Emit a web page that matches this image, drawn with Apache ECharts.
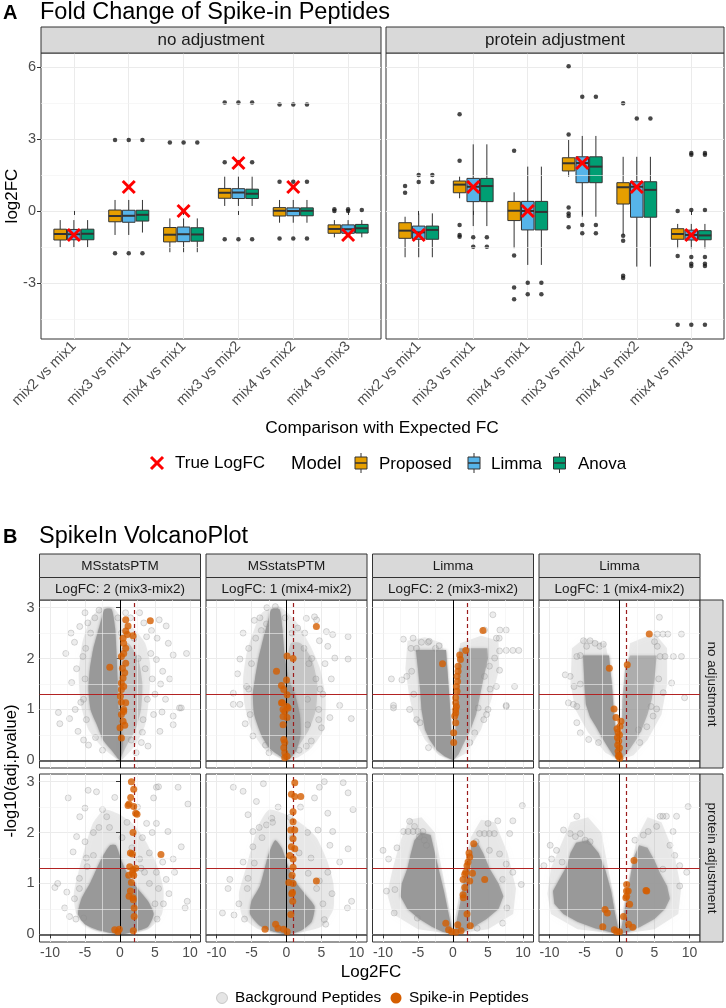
<!DOCTYPE html>
<html><head><meta charset="utf-8">
<script src="https://cdn.jsdelivr.net/npm/echarts@6/dist/echarts.min.js"></script>
<style>html,body{margin:0;padding:0;background:#fff}#c{width:726px;height:1008px}</style>
</head><body><div id="c"></div>
<script>
// ---------------- Panel A data ----------------
const comparisons = ['mix2 vs mix1','mix3 vs mix1','mix4 vs mix1','mix3 vs mix2','mix4 vs mix2','mix4 vs mix3'];
const models = ['Proposed','Limma','Anova'];
const facetsA = ['no adjustment','protein adjustment'];
const trueLogFC = [-1,1,0,2,1,-1];
const yTicksA = [-3,0,3,6];
// box stats: [lower whisker, q1, median, q3, upper whisker]
const noAdjProposed = [[-1.51,-1.21,-0.96,-0.76,-0.38],[-1.00,-0.45,-0.21,0.04,0.46],[-1.72,-1.29,-0.99,-0.69,-0.31],[0.21,0.53,0.76,0.94,1.43],[-0.49,-0.21,0.01,0.14,0.46],[-1.10,-0.93,-0.75,-0.58,-0.38]];
const noAdjLimma    = [[-1.51,-1.20,-0.97,-0.77,-0.38],[-1.00,-0.47,-0.20,0.03,0.46],[-1.72,-1.28,-0.97,-0.67,-0.31],[0.21,0.52,0.77,0.93,1.43],[-0.49,-0.20,0.00,0.13,0.46],[-1.10,-0.93,-0.76,-0.58,-0.38]];
const noAdjAnova    = [[-1.51,-1.20,-0.95,-0.76,-0.38],[-0.90,-0.42,-0.16,0.03,0.46],[-1.72,-1.26,-0.98,-0.70,-0.31],[0.21,0.52,0.72,0.91,1.43],[-0.49,-0.20,0.01,0.13,0.46],[-1.10,-0.92,-0.72,-0.56,-0.38]];
const protAdjProposed = [[-1.93,-1.14,-0.82,-0.49,-0.24],[0.53,0.76,1.10,1.25,1.43],[-1.55,-0.40,0.01,0.40,0.78],[1.43,1.67,1.99,2.22,2.96],[-1.00,0.29,0.99,1.18,2.26],[-1.55,-1.18,-0.96,-0.74,-0.54]];
const protAdjLimma    = [[-1.93,-1.18,-0.89,-0.63,-0.10],[-0.63,0.39,1.01,1.36,2.78],[-2.25,-0.79,0.00,0.40,1.85],[-0.24,1.18,2.00,2.26,3.13],[-2.32,-0.26,1.01,1.22,2.26],[-1.56,-1.21,-1.00,-0.80,-0.54]];
const protAdjAnova    = [[-1.93,-1.18,-0.79,-0.63,-0.10],[-0.63,0.39,1.04,1.36,2.78],[-2.25,-0.79,-0.04,0.40,1.85],[-0.24,1.18,1.85,2.26,3.13],[-2.32,-0.26,0.88,1.22,2.26],[-1.56,-1.20,-1.02,-0.82,-0.54]];
// outliers: [comparison number, value]
const noAdjProposedOut = [[2,2.96],[2,-1.76],[3,2.86],[4,4.53],[4,2.03],[4,-1.18],[5,4.44],[5,1.22],[5,-1.15],[6,0.0],[6,0.07]];
const noAdjLimmaOut    = [[2,2.96],[2,-1.76],[3,2.86],[4,4.53],[4,2.03],[4,-1.18],[5,4.44],[5,1.22],[5,-1.15],[6,0.0],[6,0.07]];
const noAdjAnovaOut    = [[2,2.96],[2,-1.76],[3,2.86],[4,4.53],[4,2.03],[4,-1.18],[5,4.44],[5,1.22],[5,-1.15],[6,0.04]];
const protAdjProposedOut = [[1,1.04],[1,0.76],[2,4.04],[2,2.1],[2,-0.58],[2,-1.0],[2,-1.07],[3,2.51],[3,-1.86],[3,-3.19],[3,-3.68],[4,6.04],[4,3.19],[4,0.15],[4,-0.1],[4,-0.21],[4,-0.68],[5,4.49],[5,-1.03],[5,-1.24],[5,-2.7],[5,-2.8],[6,0.0],[6,-1.88],[6,-4.75]];
const protAdjLimmaOut    = [[1,1.5],[1,1.21],[2,-1.1],[2,-1.49],[3,-2.99],[3,-3.47],[4,4.76],[4,-0.58],[4,-0.93],[5,3.86],[6,2.35],[6,2.42],[6,0.04],[6,-1.92],[6,-2.2],[6,-2.3],[6,-4.75]];
const protAdjAnovaOut    = [[1,1.5],[1,1.21],[2,-1.1],[2,-1.49],[3,-2.99],[3,-3.47],[4,4.76],[4,-0.58],[4,-0.93],[5,3.86],[6,2.35],[6,2.42],[6,0.04],[6,-1.92],[6,-2.2],[6,-2.3],[6,-4.75]];

// ---------------- Panel B data ----------------
const bModels = ['MSstatsPTM','MSstatsPTM','Limma','Limma'];
const bLabels = ['LogFC: 2 (mix3-mix2)','LogFC: 1 (mix4-mix2)','LogFC: 2 (mix3-mix2)','LogFC: 1 (mix4-mix2)'];
const bTrueFC = [2,1,2,1];
const bRows = ['no adjustment','protein adjustment'];
const xTicksB = [-10,-5,0,5,10];
const yTicksB = [0,1,2,3];
const sigLine = 1.301;

// dense clouds (outlines of overlapping background points) and sparse background points
const r1c1Halo = [[0,0],[-2.5,0.25],[-4.5,0.6],[-5.6,1.1],[-5.9,1.7],[-5.4,2.3],[-4.3,2.75],[-2.8,3.0],[-1.0,3.0],[0.5,2.75],[2.2,2.55],[3.6,2.3],[4.3,1.9],[4.2,1.3],[3.6,0.7],[2.2,0.3],[0.8,0.08]];
const r1c1Core = [[0,0],[-1.2,0.2],[-2.4,0.4],[-3.3,0.7],[-4.2,1.0],[-4.5,1.4],[-4.3,1.8],[-3.8,2.2],[-3.2,2.5],[-2.6,2.8],[-2.2,2.97],[-1.2,2.97],[-0.7,2.6],[-0.5,2.1],[-0.35,1.6],[-0.25,1.1],[0.1,0.7],[0.4,0.4],[0.2,0.1]];
const r1c1Mid  = [[0,0.05],[1,0.3],[2.2,0.6],[3.0,1.0],[3.2,1.5],[2.6,2.0],[1.2,2.3],[0.2,2.2],[-0.2,1.5],[-0.1,0.6]];
const r1c1Bg = [[-8.8,0.94],[-8.6,0.72],[-7.2,0.82],[-6.4,1.0],[-6.0,0.57],[-5.75,2.63],[-6.5,2.32],[-7.75,2.1],[-5.3,2.04],[-6.9,1.53],[-5.6,1.14],[-6.2,1.8],[-5.0,2.9],[-4.6,2.7],[-7.0,2.5],[-5.2,0.4],[-4.5,0.3],[2.8,2.9],[5.6,2.76],[6.6,2.64],[7.6,2.07],[9.5,2.1],[3.8,2.43],[4.5,2.55],[5.2,1.98],[6.1,1.75],[8.75,1.03],[7.6,0.87],[8.5,1.03],[7.6,0.7],[5.7,0.57],[3.05,0.35],[4.0,0.28],[2.3,0.15],[5.0,1.3],[5.8,1.5],[6.5,1.2],[4.8,0.9],[4.4,2.1],[3.4,2.7],[5.3,2.4],[6.9,2.3],[6.0,0.95],[4.6,1.6],[7.1,1.6],[3.2,0.55],[1.5,2.8],[0.8,2.9],[-4.8,0.8],[-5.2,1.2],[-5.0,1.6],[-4.9,2.2],[-4.2,2.5],[-3.6,2.8],[-3.0,2.95],[-0.3,2.8],[0.2,2.5],[2.0,2.4],[2.6,2.0],[3.6,1.8],[3.9,1.2],[3.3,0.8],[1.6,0.4],[-3.5,0.45],[-2.5,0.2]];
const r1c1Spike = [[0.82,2.76],[1.15,2.64],[0.82,2.54],[1.06,2.47],[0.44,2.40],[1.86,2.45],[0.53,2.30],[0.82,2.20],[0.53,2.10],[0.20,2.04],[0.82,1.91],[0.35,1.81],[0.68,1.72],[0.44,1.62],[0.20,1.52],[0.53,1.45],[0.20,1.39],[0.06,1.26],[0.20,1.14],[0.82,1.13],[0.53,0.96],[0.53,1.0],[0.20,0.90],[0.44,0.77],[0.68,0.69],[0.0,0.64],[0.20,0.44],[4.33,2.74],[-1.46,1.83]];

const r1c2Halo = [[0,0],[-3,0.2],[-5,0.6],[-6.0,1.1],[-6.2,1.6],[-5.7,2.1],[-4.8,2.5],[-3.5,2.9],[-1,3.02],[1.5,2.7],[3.4,2.25],[4.8,1.8],[5.6,1.2],[5.3,0.6],[3.6,0.25],[1.5,0.05]];
const r1c2Core = [[0,0],[-1.3,0.12],[-2.5,0.25],[-3.6,0.5],[-4.6,0.9],[-4.8,1.3],[-4.5,1.6],[-4.0,2.0],[-3.3,2.4],[-2.6,2.75],[-2.15,2.97],[-1.0,2.97],[-0.6,2.6],[-0.3,2.1],[0.3,1.6],[1.2,1.3],[1.9,0.9],[2.0,0.5],[1.4,0.2],[0.6,0.05]];
const r1c2Mid  = [[0.3,0.1],[1.8,0.3],[3.2,0.6],[4.2,1.0],[4.4,1.5],[3.6,2.0],[2.0,2.3],[0.6,2.3],[0,1.8]];
const r1c2Bg = [[-6.2,2.5],[-6.65,1.99],[-2.86,2.68],[-3.6,2.55],[2.84,2.79],[4.0,2.82],[4.3,2.76],[5.7,2.53],[6.6,2.47],[8.8,2.43],[5.9,2.24],[6.9,2.01],[8.8,1.99],[4.7,2.35],[-5.7,1.45],[-6.65,1.1],[-7.6,1.32],[-7.6,1.1],[-5.9,0.72],[-4.8,0.48],[7.6,1.08],[9.25,0.82],[5.0,0.64],[6.2,0.84],[3.55,0.38],[2.84,0.28],[3.6,2.0],[4.2,1.6],[5.2,1.3],[3.0,1.2],[4.6,1.0],[-7.0,1.7],[-5.4,2.2],[-4.6,2.75],[-1.6,3.02],[1.6,2.6],[2.5,2.2],[6.4,1.6],[5.5,1.9],[-3.0,0.3],[-5.2,0.9],[-5.4,1.4],[-5.0,1.9],[-4.4,2.4],[-3.8,2.8],[-2.8,3.0],[-0.2,2.8],[0.8,2.5],[2.6,2.5],[3.2,1.9],[4.8,1.4],[4.6,0.8],[3.0,0.7],[1.8,0.2],[-2.5,0.15]];
const r1c2Spike = [[4.27,2.63],[0.08,2.05],[0.94,2.0],[-1.43,1.75],[-0.72,1.47],[-0.39,1.39],[0.0,1.58],[0.08,1.29],[-0.58,1.13],[0.08,1.06],[-0.25,0.96],[-0.72,1.13],[-0.49,1.0],[0.22,1.03],[-0.49,0.86],[0.08,0.84],[-0.49,0.7],[-0.39,0.41],[-0.25,0.35],[-0.39,0.25],[-0.25,0.15],[-0.25,0.05],[0.08,0.08]];

const r1c3Halo = [[0,0],[-2,0.1],[-4,0.4],[-5.5,0.8],[-6.3,1.3],[-6.8,1.8],[-6.5,2.35],[-4,2.42],[-1.5,2.3],[-0.5,1.2],[0,0.3],[0.5,1.2],[1,2.3],[4,2.45],[6.5,2.35],[6.6,1.8],[5.5,1.2],[4,0.6],[2,0.15]];
const r1c3CoreL = [[0,0],[-1.2,0.08],[-2.3,0.2],[-3.3,0.4],[-4.0,0.6],[-4.5,1.0],[-4.7,1.4],[-5.0,1.8],[-5.3,2.17],[-1.0,2.17],[-0.7,1.6],[-0.45,1.1],[-0.25,0.5]];
const r1c3CoreR = [[0.05,0],[0.8,0.12],[1.6,0.35],[2.5,0.6],[3.3,0.9],[3.9,1.3],[4.5,1.7],[5.0,2.0],[4.9,2.2],[0.9,2.2],[0.7,1.6],[0.5,1.0],[0.3,0.5]];
const r1c3Bg = [[-7.1,2.38],[-5.7,2.4],[-4.5,2.32],[-3.55,2.32],[-3.4,2.34],[-8.8,1.6],[-7.3,1.58],[-6.6,1.65],[-5.9,1.75],[-8.5,1.03],[-6.2,1.0],[5.7,2.86],[4.5,2.56],[6.7,2.56],[7.6,2.56],[6.2,2.4],[6.6,2.4],[9.4,2.16],[8.55,2.16],[7.6,2.16],[6.65,2.15],[5.95,2.01],[5.2,1.85],[6.65,1.77],[4.5,1.65],[6.2,1.45],[8.8,1.45],[7.6,1.06],[5.0,1.0],[-8.5,1.08],[-4.7,0.74],[3.6,1.03],[4.8,0.9],[7.6,1.08],[2.4,0.35],[3.1,0.54],[-6.0,2.2],[-5.2,2.2],[-2.5,2.2],[-2.0,2.25],[-5.6,1.3],[-5.2,0.8],[-3.5,0.25],[5.3,1.4],[4.4,0.8]];
const r1c3Spike = [[4.28,2.55],[1.82,2.16],[0.96,2.07],[1.06,1.98],[0.72,1.85],[0.72,1.75],[0.58,1.65],[0.65,1.55],[0.49,1.45],[0.58,1.36],[0.39,1.23],[0.49,1.06],[0.39,0.93],[-1.5,1.9],[0.39,1.13],[0.39,1.0],[0.25,0.87],[0.39,0.74],[0.1,0.54],[0.1,0.35]];

const r1c4Halo = [[0,0],[-2,0.15],[-4.5,0.55],[-6.3,1.0],[-7.0,1.5],[-6.8,2.2],[-5,2.4],[-2,2.3],[-1,1.5],[-0.2,0.3],[0.2,0.3],[0.8,1.5],[1.5,2.3],[5,2.5],[6.8,2.2],[6.8,1.5],[6,0.9],[4,0.4],[2,0.1]];
const r1c4CoreL = [[0,0],[-0.9,0.1],[-1.6,0.25],[-2.5,0.45],[-3.3,0.65],[-4.2,0.85],[-4.8,1.1],[-5.0,1.5],[-5.2,2.06],[-1.5,2.06],[-1.1,1.5],[-0.8,0.9],[-0.4,0.4],[-0.1,0.1]];
const r1c4CoreR = [[0.1,0],[0.8,0.1],[1.6,0.25],[2.6,0.45],[3.3,0.65],[4.0,0.9],[4.6,1.2],[5.0,1.6],[5.3,2.06],[1.5,2.06],[0.8,1.8],[0.4,1.2],[0.3,0.6]];
const r1c4Bg = [[-5.15,2.35],[-4.2,2.35],[-4.7,2.24],[-2.8,2.24],[-2.3,2.28],[-5.6,2.06],[-6.1,2.04],[-7.05,1.65],[-7.75,1.68],[-6.5,1.45],[-7.3,1.13],[-6.1,1.06],[5.7,2.81],[5.4,2.48],[6.2,2.48],[6.9,2.48],[8.85,2.48],[5.0,2.33],[5.4,2.24],[5.8,2.04],[6.5,2.04],[7.7,2.04],[8.85,2.04],[7.45,1.52],[6.25,1.33],[9.3,1.23],[4.5,1.06],[-6.6,1.1],[-6.1,0.74],[-5.6,0.54],[-4.4,0.41],[5.3,1.01],[4.8,0.87],[2.9,0.35],[2.7,0.6],[3.9,0.66],[-5.6,1.5],[-3.0,0.35],[5.6,1.6],[-3.5,2.3]];
const r1c4Spike = [[4.25,2.48],[-1.45,1.81],[1.11,1.88],[-0.78,1.01],[-0.5,0.84],[0.21,0.77],[0.07,0.67],[-0.35,0.62],[-0.2,0.55],[0.0,0.5],[-0.3,0.45],[-0.1,0.38],[-0.25,0.3],[0.0,0.25],[-0.2,0.18],[-0.05,0.1],[0.05,0.04],[-0.15,0.08]];

const r2c1Halo = [[0,0],[-4,0.1],[-6.2,0.4],[-6.6,0.8],[-5.8,1.3],[-4.8,1.8],[-3.8,2.2],[-2.2,2.45],[0,2.35],[2,2.15],[3.8,1.8],[5.3,1.35],[6.2,0.9],[6.0,0.4],[4,0.1]];
const r2c1Core = [[0,0],[-3,0.08],[-5,0.2],[-6,0.4],[-5.5,0.7],[-4.3,1.0],[-3.3,1.3],[-2.4,1.55],[-1.4,1.75],[-0.6,1.75],[0.2,1.45],[1.2,1.15],[2.5,0.9],[4,0.65],[4.8,0.4],[4,0.15],[2,0.05]];
const r2c1Bg = [[-7.4,2.68],[-4.55,2.83],[-3.36,2.8],[-5.0,2.48],[-5.75,2.31],[-0.75,2.69],[-1.9,2.31],[-6.2,1.92],[-5.0,1.82],[-6.7,1.62],[-4.7,1.33],[-9.3,0.92],[-8.9,1.0],[-7.6,0.83],[5.2,2.89],[5.5,2.9],[8.3,2.89],[9.7,2.56],[4.8,2.68],[3.8,2.18],[5.2,2.18],[4.6,2.0],[6.85,2.02],[8.75,1.72],[7.6,1.48],[6.1,1.42],[5.2,1.22],[6.6,1.08],[7.8,1.22],[2.8,1.48],[3.5,1.22],[-7.9,0.52],[-7.2,0.35],[9.6,0.65],[9.3,0.52],[-5.2,0.32],[-3.0,2.1],[-2.5,2.45],[1.0,2.2],[2.5,2.5],[3.2,1.9],[4.2,1.6],[-3.8,1.55],[-5.8,1.1],[-6.5,0.7],[6.2,0.6],[7.0,0.8],[5.5,0.9],[-6.3,0.3],[-5.8,0.9],[-4.8,1.5],[-3.8,2.0],[-1.5,2.1],[0.3,1.9],[1.7,1.7],[3.0,1.3],[4.2,1.0],[5.0,0.6],[5.3,0.3]];
const r2c1Spike = [[1.63,3.0],[1.96,2.85],[1.53,2.69],[1.29,2.56],[1.15,2.53],[1.96,2.51],[2.24,2.38],[2.43,2.36],[1.86,2.0],[1.49,1.6],[1.77,1.58],[5.85,1.57],[1.39,1.33],[2.24,1.3],[1.86,1.27],[1.77,1.2],[1.25,1.16],[1.96,1.16],[1.63,1.02],[1.3,0.75],[1.86,0.72],[1.49,0.85],[1.9,0.68],[2.02,0.52],[2.02,0.35],[1.9,0.07],[-0.3,0.05],[-0.75,0.09],[-0.1,0.1]];

const r2c2Halo = [[0,0],[-4,0.1],[-6.3,0.35],[-6.8,0.8],[-5.8,1.3],[-4.8,1.8],[-3.8,2.2],[-2.5,2.45],[0,2.35],[2.4,2.15],[4.3,1.9],[5.8,1.45],[6.7,1.0],[6.7,0.5],[5,0.15]];
const r2c2Core = [[0,0],[-2,0.06],[-3.9,0.18],[-5.2,0.4],[-5,0.65],[-3.8,0.95],[-3.1,1.3],[-2.5,1.6],[-1.6,1.85],[-0.7,1.7],[0.2,1.35],[1.2,1.05],[2.6,0.8],[4.0,0.55],[3.6,0.25],[2.0,0.07]];
const r2c2Bg = [[-7.6,2.89],[-3.3,2.96],[-6.2,2.81],[-4.3,2.61],[-5.5,2.35],[-4.8,2.02],[-2.86,2.15],[-2.1,2.28],[5.4,3.0],[8.1,2.98],[4.7,2.89],[4.0,2.68],[5.9,2.38],[8.8,2.78],[9.5,2.45],[4.5,2.05],[6.6,2.02],[6.2,1.75],[8.8,1.68],[7.6,1.42],[5.9,1.22],[4.7,1.05],[-4.8,1.72],[-6.2,1.42],[-8.1,1.08],[-8.35,0.9],[-9.15,0.42],[-7.5,0.38],[9.3,0.65],[8.7,0.52],[5.4,0.29],[-1.2,2.5],[0.5,2.3],[2.0,2.5],[3.0,2.0],[3.5,1.5],[-3.5,1.9],[-5.5,1.1],[6.5,0.8],[-6.8,0.6],[-6.0,0.3],[-5.6,0.9],[-4.6,1.4],[-3.9,2.1],[-2.0,2.2],[0.8,1.9],[1.8,1.6],[3.1,1.2],[4.3,0.9],[5.2,0.6],[5.6,0.2]];
const r2c2Spike = [[1.18,2.98],[0.7,2.75],[1.18,2.71],[2.04,2.71],[0.94,2.41],[0.94,2.21],[0.61,2.05],[1.18,2.05],[0.94,1.88],[0.7,1.72],[1.18,1.68],[0.46,1.55],[0.94,1.48],[0.94,1.32],[0.8,1.16],[0.32,1.02],[0.94,1.0],[4.27,1.05],[0.85,0.82],[0.75,0.8],[0.89,0.65],[0.62,0.39],[-3.07,0.1],[-1.56,0.2],[-1.22,0.12],[-0.43,0.1],[0.1,0.05]];

const r2c3Halo = [[0,0],[-5,0.1],[-8.6,0.4],[-9.4,0.8],[-8.6,1.3],[-7.6,1.8],[-6.3,2.25],[-4.5,2.3],[-2.6,2.0],[-1.2,1.0],[0,0.1],[1.2,1.0],[2.5,1.9],[4,2.25],[6,2.2],[7.8,1.6],[9,0.9],[8.6,0.4],[5,0.1]];
const r2c3CoreL = [[0,0],[-1.5,0.05],[-3,0.15],[-4.8,0.3],[-6.5,0.5],[-7.5,0.75],[-7.3,1.0],[-6.5,1.3],[-6.0,1.6],[-5.5,1.85],[-4.5,2.0],[-3.2,1.95],[-2.6,1.6],[-2.0,1.25],[-1.3,0.85],[-0.7,0.45],[-0.25,0.15]];
const r2c3CoreR = [[0.2,0],[1.5,0.05],[3,0.15],[4.8,0.3],[6.5,0.5],[7.2,0.75],[6.5,1.0],[5.2,1.3],[4.3,1.6],[3.5,1.8],[2.6,1.75],[2.0,1.4],[1.5,1.0],[1.0,0.6],[0.5,0.25]];
const r2c3Bg = [[-10,1.65],[-9.2,1.48],[-8.0,1.7],[-7.1,2.02],[-6.4,2.02],[-5.7,2.02],[-5.0,2.02],[-4.3,2.02],[-6.2,2.22],[-5.5,2.12],[-4.8,1.92],[-4.1,1.85],[-3.8,1.75],[-8.3,0.88],[-9.5,0.85],[3.8,1.98],[4.5,1.98],[5.2,1.98],[5.9,1.98],[8.1,1.98],[5.0,2.18],[6.4,2.23],[8.55,2.23],[9.9,2.53],[3.3,1.82],[5.2,1.65],[6.65,1.58],[7.6,1.38],[8.55,1.22],[9.75,0.98],[7.1,1.08],[-8.4,0.42],[-5.1,0.32],[7.7,0.52],[7.1,0.22],[3.45,0.12]];
const r2c3Spike = [[2.96,1.78],[2.29,1.6],[2.39,1.52],[2.15,1.42],[2.0,1.35],[1.82,1.22],[1.68,1.18],[2.78,1.2],[1.44,1.08],[4.53,1.08],[2.39,1.05],[1.68,0.92],[1.44,0.78],[1.48,0.72],[2.0,0.4],[-1.03,0.22],[0.68,0.19],[2.47,0.17],[-0.63,0.09],[-0.18,0.05],[1.15,0.07],[0.4,0.04]];

const r2c4Halo = [[0,0],[-6,0.1],[-9.8,0.4],[-10.3,0.8],[-9.8,1.3],[-8.4,1.75],[-7,2.2],[-4.5,2.3],[-2.6,2.0],[-1.2,1.0],[0,0.1],[1.2,1.0],[2.5,1.9],[4,2.3],[6,2.2],[7.8,1.6],[8.8,0.9],[8.4,0.4],[5,0.1]];
const r2c4CoreL = [[0,0],[-1.5,0.05],[-3.5,0.12],[-6,0.25],[-8,0.4],[-9.3,0.6],[-9.5,0.85],[-8.5,1.1],[-7.5,1.35],[-7.0,1.6],[-6.2,1.8],[-4.5,1.85],[-3.0,1.6],[-2.0,1.25],[-1.2,0.85],[-0.7,0.45],[-0.2,0.12]];
const r2c4CoreR = [[0.1,0],[1.5,0.06],[3.0,0.15],[5.0,0.3],[6.5,0.5],[7.2,0.7],[6.8,0.95],[5.8,1.2],[5.0,1.45],[4.0,1.7],[2.8,1.75],[2.0,1.5],[1.5,1.1],[1.0,0.7],[0.5,0.3]];
const r2c4Bg = [[-6.1,2.32],[-8.0,2.05],[-7.05,1.98],[-6.3,1.92],[-5.6,1.98],[-4.9,1.85],[-4.2,1.82],[-9.9,1.75],[-9.0,1.65],[-9.7,1.48],[-8.2,1.42],[-10.8,1.35],[2.2,1.85],[3.4,1.95],[4.1,2.02],[5.3,2.12],[5.8,2.32],[6.2,2.32],[6.7,2.32],[8.15,2.32],[9.8,2.51],[7.65,2.02],[7.2,1.75],[7.9,1.55],[8.6,1.35],[6.2,1.28],[9.6,1.22],[8.6,0.95]];
const r2c4Spike = [[2.07,1.45],[3.78,0.86],[1.02,0.98],[1.0,0.85],[1.02,0.75],[1.24,0.85],[0.91,0.72],[1.44,0.59],[3.89,0.85],[-2.07,0.49],[-1.74,0.42],[0.57,0.35],[-2.39,0.15],[-0.74,0.09],[-0.41,0.05],[0.0,0.05],[1.89,0.14],[1.3,0.2]];

// ---------------- build chart ----------------
const FONT = "'Liberation Sans', Arial, sans-serif";
const COLORS = ['#E69F00','#56B4E9','#009E73'];
const SPIKE = '#D55E00';
const GRIDLINE = '#EBEBEB';
const grids = [], xAxes = [], yAxes = [], series = [], graphics = [];

function boxRenderer(offset, color) {
  const hw = 0.115;
  return function (params, api) {
    const x = api.value(0) + offset;
    const lo = api.coord([x, api.value(1)]), q1 = api.coord([x - hw, api.value(2)]);
    const md = api.coord([x, api.value(3)]), q3 = api.coord([x + hw, api.value(4)]);
    const hi = api.coord([x, api.value(5)]);
    const st = { stroke: '#333333', lineWidth: 1 };
    return { type: 'group', children: [
      { type: 'line', shape: { x1: md[0], y1: hi[1], x2: md[0], y2: q3[1] }, style: st },
      { type: 'line', shape: { x1: md[0], y1: q1[1], x2: md[0], y2: lo[1] }, style: st },
      { type: 'rect', shape: { x: q1[0], y: q3[1], width: q3[0] - q1[0], height: q1[1] - q3[1] }, style: { fill: color, stroke: '#333333', lineWidth: 1 } },
      { type: 'line', shape: { x1: q1[0], y1: md[1], x2: q3[0], y2: md[1] }, style: { stroke: '#333333', lineWidth: 2 } }
    ]};
  };
}
function crossRenderer(params, api) {
  const p = api.coord([api.value(0), api.value(1)]);
  const r = 6, st = { stroke: '#FF0000', lineWidth: 3 };
  return { type: 'group', children: [
    { type: 'line', shape: { x1: p[0] - r, y1: p[1] - r, x2: p[0] + r, y2: p[1] + r }, style: st },
    { type: 'line', shape: { x1: p[0] - r, y1: p[1] + r, x2: p[0] + r, y2: p[1] - r }, style: st }
  ]};
}
function polyRenderer(points, fill, smooth, blur) {
  return function (params, api) {
    if (params.dataIndex !== 0) return null;
    return { type: 'polygon', shape: { points: points.map(p => api.coord(p)), smooth: smooth },
      style: { fill: fill, shadowBlur: blur, shadowColor: fill } };
  };
}
function textEl(x, y, text, size, opts) {
  opts = opts || {};
  return { type: 'text', x: x, y: y, rotation: opts.rot || 0, z: 10,
    style: { text: text, fontSize: size, fontFamily: FONT, fontWeight: opts.bold ? 'bold' : 'normal',
      fill: opts.color || '#000', align: opts.align || 'left', verticalAlign: 'middle' } };
}
function stripEl(x, y, w, h) {
  return { type: 'rect', z: 5, shape: { x: x, y: y, width: w, height: h }, style: { fill: '#D9D9D9', stroke: '#333333', lineWidth: 1 } };
}

// ----- Panel A -----
const aGrid = [{ left: 41, top: 53, width: 340, height: 286 }, { left: 386, top: 53, width: 338, height: 286 }];
const boxSets = [[noAdjProposed, noAdjLimma, noAdjAnova], [protAdjProposed, protAdjLimma, protAdjAnova]];
const outSets = [[noAdjProposedOut, noAdjLimmaOut, noAdjAnovaOut], [protAdjProposedOut, protAdjLimmaOut, protAdjAnovaOut]];
const modelOffset = [-0.25, 0, 0.25];
const catTicks = comparisons.map((c, i) => i + 1);

aGrid.forEach((g, fi) => {
  grids.push(Object.assign({ show: true, borderColor: '#333333', borderWidth: 1, backgroundColor: '#fff', containLabel: false, outerBoundsMode: 'none' }, g));
  xAxes.push({ gridIndex: fi, type: 'value', min: 0.4, max: 6.6, axisLine: { show: false },
    axisTick: { show: true, customValues: catTicks, length: 4, lineStyle: { color: '#333333' } },
    axisLabel: { customValues: catTicks, formatter: v => comparisons[Math.round(v) - 1], rotate: 45, color: '#4D4D4D', fontSize: 14.5, fontFamily: FONT, margin: 5 },
    splitLine: { show: true, lineStyle: { color: GRIDLINE, width: 1 } } });
  yAxes.push({ gridIndex: fi, type: 'value', min: -5.34, max: 6.59, axisLine: { show: false },
    axisTick: { show: true, customValues: yTicksA, length: fi === 0 ? 4 : 0, lineStyle: { color: '#333333' } },
    axisLabel: { show: fi === 0, customValues: yTicksA, color: '#4D4D4D', fontSize: 14.5, fontFamily: FONT, margin: 5 },
    splitLine: { show: true, lineStyle: { color: GRIDLINE, width: 1 } } });
  series.push({ type: 'line', xAxisIndex: fi, yAxisIndex: fi, data: [], z: 1, silent: true,
    markLine: { silent: true, symbol: ['none', 'none'], animation: false, label: { show: false },
      lineStyle: { color: '#F2F2F2', width: 0.6, type: 'solid' },
      data: [-4.5, -1.5, 1.5, 4.5].map(v => ({ yAxis: v })) } });
  boxSets[fi].forEach((stats, mi) => {
    series.push({ type: 'custom', name: models[mi], xAxisIndex: fi, yAxisIndex: fi, z: 3, silent: true,
      data: stats.map((s, ci) => [ci + 1].concat(s)), encode: { x: 0, y: [1, 2, 3, 4, 5] },
      renderItem: boxRenderer(modelOffset[mi], COLORS[mi]) });
    series.push({ type: 'scatter', xAxisIndex: fi, yAxisIndex: fi, z: 3, silent: true, symbolSize: 4.5,
      itemStyle: { color: '#1A1A1A' }, data: outSets[fi][mi].map(d => [d[0] + modelOffset[mi], d[1]]) });
  });
  series.push({ type: 'custom', name: 'True LogFC', xAxisIndex: fi, yAxisIndex: fi, z: 6, silent: true,
    data: trueLogFC.map((v, i) => [i + 1, v]), encode: { x: 0, y: 1 }, renderItem: crossRenderer });
  graphics.push(stripEl(g.left, 27, g.width, 26));
  graphics.push(textEl(g.left + g.width / 2, 40, facetsA[fi], 17, { align: 'center', color: '#1A1A1A' }));
});
graphics.push(textEl(3, 13, 'A', 20, { bold: true }));
graphics.push(textEl(40, 13, 'Fold Change of Spike-in Peptides', 23.5));
graphics.push(textEl(12, 196, 'log2FC', 17, { align: 'center', rot: Math.PI / 2 }));
graphics.push(textEl(382, 428, 'Comparison with Expected FC', 17.3, { align: 'center' }));
// legend A
graphics.push({ type: 'line', z: 10, shape: { x1: 151, y1: 457, x2: 163, y2: 469 }, style: { stroke: '#FF0000', lineWidth: 3 } });
graphics.push({ type: 'line', z: 10, shape: { x1: 151, y1: 469, x2: 163, y2: 457 }, style: { stroke: '#FF0000', lineWidth: 3 } });
graphics.push(textEl(175, 463, 'True LogFC', 17));
graphics.push(textEl(291, 464, 'Model', 18.5));
const legKeyX = [361, 474, 559.5], legTextX = [379, 491, 578];
models.forEach((m, i) => {
  const cx = legKeyX[i];
  graphics.push({ type: 'line', z: 10, shape: { x1: cx, y1: 453, x2: cx, y2: 473 }, style: { stroke: '#333', lineWidth: 1 } });
  graphics.push({ type: 'rect', z: 10, shape: { x: cx - 6, y: 457, width: 12, height: 12 }, style: { fill: COLORS[i], stroke: '#333', lineWidth: 1 } });
  graphics.push({ type: 'line', z: 10, shape: { x1: cx - 6, y1: 463, x2: cx + 6, y2: 463 }, style: { stroke: '#333', lineWidth: 1.5 } });
  graphics.push(textEl(legTextX[i], 464, m, 17));
});

// ----- Panel B -----
const colLeft = [39.5, 206, 372.5, 539], colW = 161, rowTop = [600, 774], rowH = 168;
const bPanels = [
  [{ halo: r1c1Halo, cores: [[r1c1Core, 1], [r1c1Mid, 0.4]], bg: r1c1Bg, spike: r1c1Spike, sm: 0.2 },
   { halo: r1c2Halo, cores: [[r1c2Core, 1], [r1c2Mid, 0.35]], bg: r1c2Bg, spike: r1c2Spike, sm: 0.2 },
   { halo: r1c3Halo, cores: [[r1c3CoreL, 1], [r1c3CoreR, 0.7]], bg: r1c3Bg, spike: r1c3Spike, sm: 0 },
   { halo: r1c4Halo, cores: [[r1c4CoreL, 1], [r1c4CoreR, 0.6]], bg: r1c4Bg, spike: r1c4Spike, sm: 0 }],
  [{ halo: r2c1Halo, cores: [[r2c1Core, 1]], bg: r2c1Bg, spike: r2c1Spike, sm: 0.2 },
   { halo: r2c2Halo, cores: [[r2c2Core, 1]], bg: r2c2Bg, spike: r2c2Spike, sm: 0.2 },
   { halo: r2c3Halo, cores: [[r2c3CoreL, 1], [r2c3CoreR, 0.85]], bg: r2c3Bg, spike: r2c3Spike, sm: 0 },
   { halo: r2c4Halo, cores: [[r2c4CoreL, 1], [r2c4CoreR, 0.8]], bg: r2c4Bg, spike: r2c4Spike, sm: 0 }]
];
bPanels.forEach((row, r) => row.forEach((p, c) => {
  const gi = grids.length;
  grids.push({ left: colLeft[c], top: rowTop[r], width: colW, height: rowH, show: true, borderColor: '#333333', borderWidth: 1, backgroundColor: '#fff', containLabel: false, outerBoundsMode: 'none' });
  xAxes.push({ gridIndex: gi, type: 'value', min: -11.5, max: 11.5, axisLine: { show: false },
    axisTick: { show: true, customValues: xTicksB, length: r === 1 ? 4 : 0, lineStyle: { color: '#333333' } },
    axisLabel: { show: r === 1, customValues: xTicksB, color: '#4D4D4D', fontSize: 14, fontFamily: FONT, margin: 4 },
    splitLine: { show: true, lineStyle: { color: GRIDLINE, width: 1 } } });
  yAxes.push({ gridIndex: gi, type: 'value', min: -0.15, max: 3.15, axisLine: { show: false },
    axisTick: { show: true, customValues: yTicksB, length: c === 0 ? 4 : 0, lineStyle: { color: '#333333' } },
    axisLabel: { show: c === 0, customValues: yTicksB, color: '#4D4D4D', fontSize: 14.5, fontFamily: FONT, margin: 5 },
    splitLine: { show: true, lineStyle: { color: GRIDLINE, width: 1 } } });
  const ax = { xAxisIndex: gi, yAxisIndex: gi, silent: true };
  series.push(Object.assign({ type: 'line', data: [], z: 1,
    markLine: { silent: true, symbol: ['none', 'none'], animation: false, label: { show: false },
      lineStyle: { color: '#F2F2F2', width: 0.6, type: 'solid' },
      data: [-7.5, -2.5, 2.5, 7.5].map(v => ({ xAxis: v })).concat([0.5, 1.5, 2.5].map(v => ({ yAxis: v }))) } }, ax));
  series.push(Object.assign({ type: 'custom', data: p.halo, z: 2, clip: true, encode: { x: 0, y: 1 },
    renderItem: polyRenderer(p.halo, 'rgba(153,153,153,0.2)', p.sm, 8) }, ax));
  p.cores.forEach(cp => series.push(Object.assign({ type: 'custom', data: cp[0], z: 2, clip: true, encode: { x: 0, y: 1 },
    renderItem: polyRenderer(cp[0], 'rgba(153,153,153,' + cp[1] + ')', p.sm, 3) }, ax)));
  series.push(Object.assign({ type: 'scatter', name: 'Background Peptides', data: p.bg, z: 3, symbolSize: 6,
    itemStyle: { color: 'rgba(153,153,153,0.22)', borderColor: 'rgba(140,140,140,0.5)', borderWidth: 0.8 } }, ax));
  series.push(Object.assign({ type: 'line', data: [], z: 4,
    markLine: { silent: true, symbol: ['none', 'none'], animation: false, label: { show: false },
      data: [
        { yAxis: 0, lineStyle: { color: '#333333', width: 1.5, type: 'solid' } },
        { xAxis: 0, lineStyle: { color: '#000000', width: 1, type: 'solid' } },
        { yAxis: sigLine, lineStyle: { color: '#B22222', width: 1, type: 'solid' } },
        { xAxis: bTrueFC[c], lineStyle: { color: '#9B1C1C', width: 1.2, type: [4, 3] } }
      ] } }, ax));
  series.push(Object.assign({ type: 'scatter', name: 'Spike-in Peptides', data: p.spike, z: 5, symbolSize: 7,
    itemStyle: { color: SPIKE } }, ax));
}));
colLeft.forEach((x, c) => {
  graphics.push(stripEl(x, 554, colW, 23.5));
  graphics.push(textEl(x + colW / 2, 566, bModels[c], 13.5, { align: 'center', color: '#1A1A1A' }));
  graphics.push(stripEl(x, 577.5, colW, 22.5));
  graphics.push(textEl(x + colW / 2, 589, bLabels[c], 13.5, { align: 'center', color: '#1A1A1A' }));
});
rowTop.forEach((y, r) => {
  graphics.push(stripEl(700, y, 23, rowH));
  graphics.push(textEl(711.5, y + rowH / 2, bRows[r], 13.5, { align: 'center', color: '#1A1A1A', rot: -Math.PI / 2 }));
});
graphics.push(textEl(3, 537, 'B', 20, { bold: true }));
graphics.push(textEl(39, 537, 'SpikeIn VolcanoPlot', 23.5));
graphics.push(textEl(11, 771, '-log10(adj.pvalue)', 16.6, { align: 'center', rot: Math.PI / 2 }));
graphics.push(textEl(371, 972, 'Log2FC', 17, { align: 'center' }));
graphics.push({ type: 'circle', z: 10, shape: { cx: 222, cy: 998, r: 5.5 }, style: { fill: 'rgba(153,153,153,0.25)', stroke: 'rgba(153,153,153,0.45)', lineWidth: 1 } });
graphics.push(textEl(235, 998, 'Background Peptides', 15.4));
graphics.push({ type: 'circle', z: 10, shape: { cx: 396, cy: 998, r: 5.5 }, style: { fill: SPIKE } });
graphics.push(textEl(409, 998, 'Spike-in Peptides', 15.4));

const chart = echarts.init(document.getElementById('c'), null, { renderer: 'canvas' });
chart.setOption({
  animation: false,
  backgroundColor: '#ffffff',
  grid: grids, xAxis: xAxes, yAxis: yAxes, series: series,
  graphic: { elements: graphics }
});
</script></body></html>
